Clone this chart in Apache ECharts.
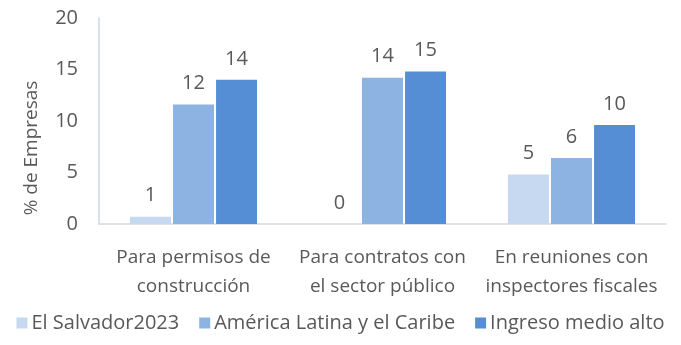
<!DOCTYPE html>
<html>
<head>
<meta charset="utf-8">
<script src="https://cdn.jsdelivr.net/npm/echarts@6/dist/echarts.min.js"></script>
<style>html,body{margin:0;padding:0;background:#fff}#c{width:681px;height:345px}</style>
</head>
<body>
<div id="c"></div>
<script>
var categories = ['Para permisos de\nconstrucción', 'Para contratos con\nel sector público', 'En reuniones con\ninspectores fiscales'];
var seriesNames = ['El Salvador2023', 'América Latina y el Caribe', 'Ingreso medio alto'];
var elSalvador = [0.7, 0, 4.8];
var americaLatina = [11.6, 14.2, 6.4];
var ingresoMedioAlto = [14.0, 14.8, 9.6];
var yTicks = [0, 5, 10, 15, 20];

var colors = ['#C6D9F1', '#8DB3E2', '#558ED5'];
var font = 'Open Sans';
var txt = '#595959';
function mk(name, data, color) {
  return {
    name: name, type: 'bar', data: data, barWidth: 41, barGap: '5%',
    itemStyle: { color: color },
    label: { show: true, position: 'top', distance: 11, color: txt, fontFamily: font, fontSize: 20,
      formatter: function (p) { return Math.round(p.value); } }
  };
}
var chart = echarts.init(document.getElementById('c'));
chart.setOption({
  animation: false,
  grid: { left: 99, right: 15, top: 18, bottom: 121 },
  legend: {
    bottom: 7, left: 'center', itemWidth: 11, itemHeight: 11, itemGap: 20,
    icon: 'rect',
    textStyle: { color: txt, fontFamily: font, fontSize: 20, padding: [0, 0, 0, -1] },
    data: seriesNames
  },
  xAxis: {
    type: 'category', data: categories,
    axisLine: { lineStyle: { color: '#D9D9D9', width: 1.5 } },
    axisTick: { show: false },
    axisLabel: { color: txt, fontFamily: font, fontSize: 19, lineHeight: 29, margin: 19, interval: 0 }
  },
  yAxis: {
    type: 'value', min: yTicks[0], max: yTicks[yTicks.length - 1], interval: 5,
    name: '% de Empresas', nameLocation: 'middle', nameGap: 58,
    nameTextStyle: { color: txt, fontFamily: font, fontSize: 19, padding: [0, 54, 0, 0] },
    axisLine: { show: true, lineStyle: { color: '#C6D9F1', width: 1.5 } },
    axisTick: { show: false },
    splitLine: { show: false },
    axisLabel: { color: txt, fontFamily: font, fontSize: 20, margin: 21 }
  },
  series: [
    mk(seriesNames[0], elSalvador, colors[0]),
    mk(seriesNames[1], americaLatina, colors[1]),
    mk(seriesNames[2], ingresoMedioAlto, colors[2])
  ]
});
</script>
</body>
</html>
